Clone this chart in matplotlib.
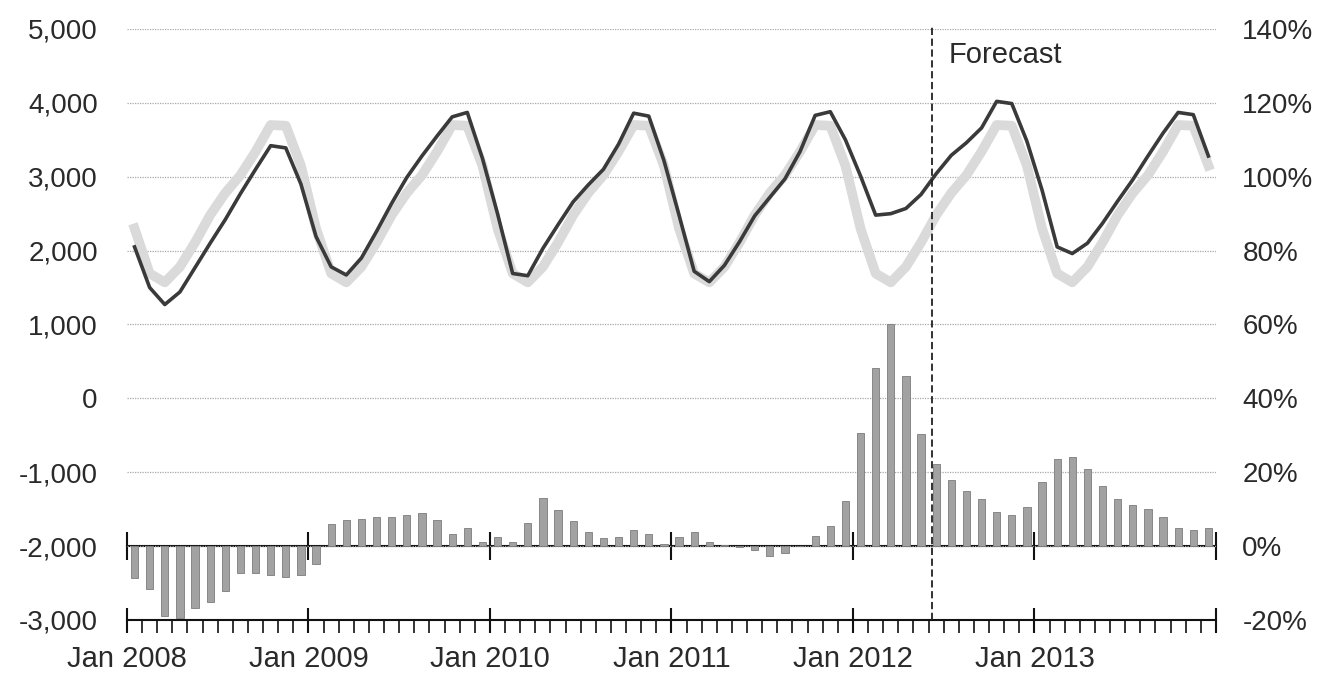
import matplotlib
matplotlib.use('Agg')
import matplotlib.pyplot as plt
from matplotlib.ticker import MultipleLocator, FuncFormatter
import numpy as np

plt.rcParams['font.family'] = ['Liberation Sans', 'DejaVu Sans']

# tick labels for the yearly major ticks (last tick at Dec 2013 end has none)
year_labels = ['Jan 2008', 'Jan 2009', 'Jan 2010', 'Jan 2011', 'Jan 2012', 'Jan 2013', '']

# monthly values, Jan 2008 .. Dec 2013 (left axis)
actual = [
    2050, 1500, 1270, 1440, 1770, 2100, 2420, 2770, 3100, 3420, 3390, 2900,
    2190, 1780, 1670, 1900, 2260, 2640, 2990, 3280, 3550, 3810, 3870, 3250,
    2500, 1690, 1660, 2030, 2350, 2660, 2890, 3100, 3440, 3860, 3820, 3220,
    2480, 1720, 1580, 1800, 2120, 2470, 2720, 2970, 3340, 3830, 3880, 3500,
    3010, 2480, 2500, 2570, 2760, 3040, 3290, 3460, 3660, 4020, 3990, 3480,
    2820, 2050, 1960, 2100, 2370, 2670, 2960, 3280, 3590, 3870, 3840, 3280,
]

# the light seasonal reference line (left axis)
baseline = [
    2300, 1690, 1570, 1780, 2110, 2480, 2780, 3020, 3340, 3700, 3690, 3150,
    2300, 1690, 1570, 1780, 2110, 2480, 2780, 3020, 3340, 3700, 3690, 3150,
    2300, 1690, 1570, 1780, 2110, 2480, 2780, 3020, 3340, 3700, 3690, 3150,
    2300, 1690, 1570, 1780, 2110, 2480, 2780, 3020, 3340, 3700, 3690, 3150,
    2300, 1690, 1570, 1780, 2110, 2480, 2780, 3020, 3340, 3700, 3690, 3150,
    2300, 1690, 1570, 1780, 2110, 2480, 2780, 3020, 3340, 3700, 3690, 3150,
]

# percent change bars (right axis)
change_pct = [
    -8.6, -11.5, -18.9, -19.4, -16.7, -15.1, -12.2, -7.4, -7.4, -7.9, -8.4, -7.9,
    -4.8, 5.9, 7.0, 7.4, 7.9, 7.9, 8.5, 9.0, 7.0, 3.3, 5.0, 1.2,
    2.5, 1.0, 6.3, 13.1, 9.9, 6.8, 3.7, 2.1, 2.5, 4.3, 3.2, 0.5,
    2.5, 3.7, 1.0, 0.3, -0.3, -1.0, -2.8, -2.0, 0.0, 2.8, 5.5, 12.2,
    30.5, 48.1, 60.1, 46.1, 30.4, 22.1, 17.8, 14.8, 12.7, 9.1, 8.5, 10.6,
    17.4, 23.5, 24.1, 21.0, 16.4, 12.7, 11.1, 10.1, 8.0, 4.9, 4.4, 4.9,
]

forecast_at = 53.2   # between May and Jun 2012
text_color = '#2a2a2a'
fs = 20
fs_x = 21

months = np.arange(len(actual)) + 0.5

fig = plt.figure(figsize=(13.38, 6.75), dpi=100)
ax = fig.add_axes([0.0949, 0.0815, 0.8139, 0.8756])
ax2 = ax.twinx()

ax.set_xlim(0, 72)
ax.set_ylim(-3000, 5000)
ax2.set_ylim(-20, 140)

# grid
ax.set_yticks(range(-3000, 5001, 1000))
ax.yaxis.set_major_formatter(FuncFormatter(lambda v, p: f'{v:,.0f}'))
ax.grid(axis='y', linestyle=(0, (1, 1)), color='#a8a8a8', linewidth=0.9)
ax.set_axisbelow(True)

# lines
ax.plot(months, baseline, color='#dadada', lw=7, solid_joinstyle='round', zorder=2)
ax.plot(months, actual, color='#3a3a3a', lw=2.6, solid_joinstyle='round', zorder=3)

# bars
ax2.bar(months, change_pct, width=0.48, color='#a2a2a2', edgecolor='#7c7c7c', linewidth=0.6)
ax2.set_yticks(range(-20, 141, 20))
ax2.yaxis.set_major_formatter(FuncFormatter(lambda v, p: f'{v:.0f}%'))

for a in (ax, ax2):
    for s in ('left', 'right', 'top'):
        a.spines[s].set_visible(False)
ax2.spines['bottom'].set_visible(False)
ax.spines['bottom'].set_linewidth(1.5)
ax.spines['bottom'].set_color('#111111')

# x ticks
ax.set_xticks(range(0, 73, 12))
ax.set_xticklabels(year_labels)
ax.xaxis.set_minor_locator(MultipleLocator(1))
ax.tick_params(axis='x', which='major', direction='inout', length=18, width=1.5,
               color='#111111', labelsize=fs_x, labelcolor=text_color, pad=9)
ax.tick_params(axis='x', which='minor', direction='out', length=9, width=1.2, color='#111111')
ax.tick_params(axis='y', length=0, labelsize=fs, labelcolor=text_color, pad=21)
ax2.tick_params(axis='y', length=0, labelsize=fs, labelcolor=text_color, pad=19)

# zero line of the bars, with year ticks
zero = ax.secondary_xaxis(0.125)
zero.set_xticks(range(0, 73, 12))
zero.set_xticklabels([])
zero.spines['bottom'].set_linewidth(1.5)
zero.spines['bottom'].set_color('#111111')
zero.tick_params(axis='x', direction='inout', length=20, width=1.5, color='#111111')

# forecast marker
ax.axvline(forecast_at, ymin=0, ymax=1.006, color='#222222', lw=1.3,
           linestyle=(0, (4, 2)), clip_on=False, zorder=4)
ax.text(forecast_at + 1.1, 4650, 'Forecast', fontsize=fs_x, color=text_color, va='center', ha='left')

fig.savefig('out.png', dpi=100)
